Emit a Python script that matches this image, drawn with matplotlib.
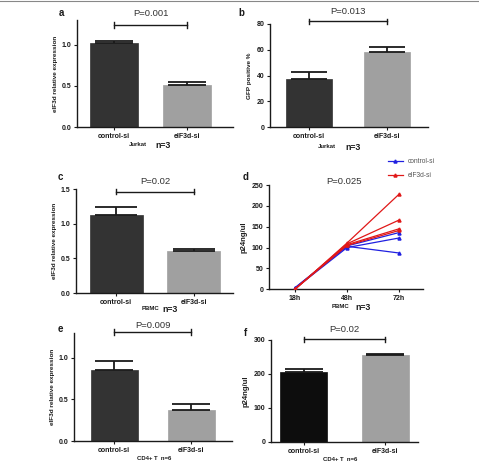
import matplotlib
matplotlib.use("Agg")
import matplotlib.pyplot as plt
from matplotlib.lines import Line2D

plt.rcParams['font.family'] = ['Liberation Sans', 'DejaVu Sans']
plt.rcParams['font.weight'] = 'bold'

# ---------------- data ----------------
categories = ['control-si', 'eIF3d-si']
a_means = [1.02, 0.51]
a_err = [0.03, 0.04]
b_means = [37.5, 58.0]
b_err = [5.3, 4.5]
c_means = [1.13, 0.60]
c_err = [0.11, 0.04]
e_means = [0.86, 0.37]
e_err = [0.10, 0.08]
f_means = [206, 256]
f_err = [8, 4]

time_labels = ['18h', '48h', '72h']
d_control = [[3, 104, 136], [2, 100, 123], [4, 103, 87]]
d_eif3d = [[0, 111, 228], [1, 109, 166], [0, 107, 145], [1, 105, 141]]

p_values = ['P=0.001', 'P=0.013', 'P=0.02', 'P=0.025', 'P=0.009', 'P=0.02']

DARK = '#333333'
LIGHT = '#a0a0a0'
TXT = '#1a1a1a'

W, H = 479, 463
fig = plt.figure(figsize=(W / 100, H / 100), dpi=100)


def rect(l, r, t, b):
    return [l / W, 1 - b / H, (r - l) / W, (b - t) / H]


def style(ax):
    for s in ['top', 'right']:
        ax.spines[s].set_visible(False)
    for s in ['left', 'bottom']:
        ax.spines[s].set_linewidth(1.0)
        ax.spines[s].set_color(TXT)
    ax.tick_params(axis='both', labelsize=5, width=0.8, length=2.5, colors=TXT, pad=1.5)


def bar_panel(r, means, errs, colors, ylim, yticks, yticklabels, xlim, width,
              ylabel, letter, bracket_y, letter_xy):
    ax = fig.add_axes(r)
    x = [0, 1]
    ax.bar(x, means, width=width, color=colors, edgecolor=colors, linewidth=0.5, zorder=2)
    # cap width ~ 80% of bar width, in points
    bar_px = width / (xlim[1] - xlim[0]) * r[2] * W
    cap_pt = bar_px * 0.8 * 0.72 / 2
    for xi, m, e in zip(x, means, errs):
        ax.errorbar([xi], [m], yerr=[[0], [e]], fmt='none', ecolor=TXT,
                    elinewidth=1.3, capsize=cap_pt, capthick=1.3, zorder=3)
    ax.set_ylim(*ylim)
    ax.set_xlim(*xlim)
    ax.set_yticks(yticks)
    ax.set_yticklabels(yticklabels, fontweight='bold')
    ax.set_xticks(x)
    ax.set_xticklabels(categories, fontsize=6, fontweight='bold')
    ax.set_ylabel(ylabel, fontsize=4.6, fontweight='bold', color=TXT, labelpad=3)
    style(ax)
    # significance bracket
    ax.plot([0, 1], [bracket_y, bracket_y], color=TXT, lw=1.0, clip_on=False)
    yr = ylim[1] - ylim[0]
    for xi in x:
        ax.plot([xi, xi], [bracket_y - yr * 0.025, bracket_y + yr * 0.025],
                color=TXT, lw=1.0, clip_on=False)
    fig.text(letter_xy[0] / W, 1 - letter_xy[1] / H, letter, fontsize=7,
             fontweight='bold', ha='center', va='center', color=TXT)
    return ax


# panel a
axa = bar_panel(rect(77, 233, 20, 127), a_means, a_err, [DARK, LIGHT], (0, 1.3),
                [0, 0.5, 1.0], ['0.0', '0.5', '1.0'], (-0.5, 1.62), 0.65,
                'eIF3d relative expression', 'a', 1.24, (61, 13))
# panel b
axb = bar_panel(rect(270, 428, 24, 127), b_means, b_err, [DARK, LIGHT], (0, 80),
                [0, 20, 40, 60, 80], ['0', '20', '40', '60', '80'], (-0.5, 1.52), 0.59,
                'GFP positive %', 'b', 82, (241, 13))
# panel c
axc = bar_panel(rect(76, 233, 189, 293), c_means, c_err, [DARK, LIGHT], (0, 1.5),
                [0, 0.5, 1.0, 1.5], ['0.0', '0.5', '1.0', '1.5'], (-0.52, 1.51), 0.68,
                'eIF3d relative expression', 'c', 1.46, (60, 177))
# panel e
axe = bar_panel(rect(74, 232, 333, 441), e_means, e_err, [DARK, LIGHT], (0, 1.3),
                [0, 0.5, 1.0], ['0.0', '0.5', '1.0'], (-0.52, 1.53), 0.61,
                'eIF3d relative expression', 'e', 1.31, (60, 329))
# panel f
axf = bar_panel(rect(271, 418, 340, 442), f_means, f_err, ['#0d0d0d', LIGHT], (0, 300),
                [0, 100, 200, 300], ['0', '100', '200', '300'], (-0.4, 1.40), 0.58,
                'p24ng/ul', 'f', 302, (245, 333))
axf.yaxis.label.set_size(5.5)

# P-value texts
for ax, p, y in [(axa, p_values[0], 13), (axb, p_values[1], 11), (axc, p_values[2], 181),
                 (axe, p_values[4], 326), (axf, p_values[5], 329)]:
    pos = ax.get_position()
    x0 = pos.x0 + (0.5 - ax.get_xlim()[0]) / (ax.get_xlim()[1] - ax.get_xlim()[0]) * pos.width
    fig.text(x0, 1 - y / H, p, fontsize=6.8, fontweight='normal', ha='center',
             va='center', color='#333333')

# panel d (line chart)
axd = fig.add_axes(rect(269, 423, 185, 289.3))
xs = [0, 1, 2]
for ys in d_control:
    axd.plot(xs, ys, color='#2020e0', lw=0.9, marker='^', ms=2.2, zorder=2)
for ys in d_eif3d:
    axd.plot(xs, ys, color='#e01818', lw=0.9, marker='^', ms=2.2, zorder=3)
axd.set_xlim(-0.5, 2.46)
axd.set_ylim(0, 250)
axd.set_xticks(xs)
axd.set_xticklabels(time_labels, fontsize=6, fontweight='bold')
axd.set_yticks([0, 50, 100, 150, 200, 250])
axd.set_ylabel('p24ng/ul', fontsize=5.5, fontweight='bold', color=TXT, labelpad=3)
style(axd)
fig.text(246 / W, 1 - 177 / H, 'd', fontsize=7, fontweight='bold', ha='center', va='center', color=TXT)
fig.text(344 / W, 1 - 182 / H, p_values[3], fontsize=6.8, fontweight='normal', ha='center',
         va='center', color='#333333')
handles = [Line2D([0], [0], color='#2020e0', lw=0.9, marker='^', ms=2.2),
           Line2D([0], [0], color='#e01818', lw=0.9, marker='^', ms=2.2)]
fig.legend(handles, categories, loc='center left', bbox_to_anchor=(382 / W, 1 - 168.5 / H),
           frameon=False, handlelength=2.2, handletextpad=0.8,
           labelspacing=1.0, labelcolor='#555555', prop={'weight': 'normal', 'size': 4.8})

# group labels under x axes
def group_label(small, big, xs_, xb, y):
    fig.text(xs_ / W, 1 - y / H, small, fontsize=4.3, fontweight='bold', ha='center', va='center', color=TXT)
    fig.text(xb / W, 1 - y / H, big, fontsize=6.3, fontweight='bold', ha='center', va='center', color=TXT)

group_label('Jurkat', 'n=3', 138, 163, 145)
group_label('Jurkat', 'n=3', 327, 353, 147)
group_label('PBMC', 'n=3', 150, 170, 309)
group_label('PBMC', 'n=3', 341, 363, 307)
fig.text(154 / W, 1 - 459 / H, 'CD4+ T  n=6', fontsize=4.3, fontweight='bold', ha='center', va='center', color=TXT)
fig.text(340 / W, 1 - 459.5 / H, 'CD4+ T  n=6', fontsize=4.3, fontweight='bold', ha='center', va='center', color=TXT)

# top frame line
fig.add_artist(Line2D([0.0, 0.997], [1 - 1.2 / H, 1 - 1.2 / H], transform=fig.transFigure,
                      color='#888888', lw=0.8))

fig.savefig('out.png', dpi=100)
